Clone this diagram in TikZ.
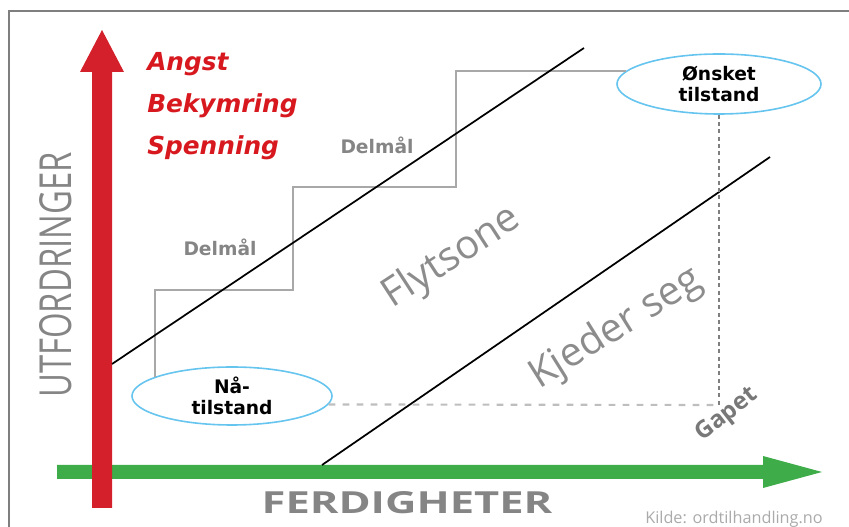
\documentclass[tikz,border=0pt]{standalone}
\usepackage{fontspec}
\usepackage{graphicx}
\usetikzlibrary{shapes.geometric}
\setmainfont{DejaVu Sans}
\newfontfamily\opensans{Open Sans}
\definecolor{framegray}{HTML}{7F7F7F}
\definecolor{stairgray}{HTML}{A8A8A8}
\definecolor{labelgray}{HTML}{858585}
\definecolor{zonegray}{HTML}{8C8C8C}
\definecolor{ellblue}{HTML}{66C5EE}
\definecolor{axisred}{HTML}{D4202A}
\definecolor{axisgreen}{HTML}{3EAC49}
\definecolor{textred}{HTML}{D7191F}
\tikzset{
  stair/.style={draw=stairgray, line width=2pt},
  diag/.style={draw=black, line width=1.3pt},
  goal/.style={ellipse, draw=ellblue, line width=1.2pt, inner sep=0pt, align=center,
    font=\bfseries\fontsize{14}{16}\selectfont},
  feeling/.style={anchor=base west, text=textred, inner sep=0pt,
    font=\bfseries\itshape\fontsize{18.6}{20}\selectfont},
  submark/.style={text=labelgray, inner sep=0pt, font=\bfseries\fontsize{14}{16}\selectfont},
  zone/.style={text=zonegray, inner sep=0pt, font=\opensans\fontsize{30}{34}\selectfont},
}
\begin{document}
\begin{tikzpicture}[x=0.75pt,y=0.75pt]
\useasboundingbox (0,0) rectangle (849,527);
% frame
\draw[framegray, line width=1.6pt] (9,0) -- (9,516) -- (849,516);

% horizontal axis (skills)
\fill[axisgreen] (57,48) -- (763,48) -- (763,39) -- (822,55) -- (763,71) -- (763,62) -- (57,62) -- cycle;
% vertical axis (challenges)
\fill[axisred] (92,19) -- (92,455) -- (80,455) -- (102,497) -- (124,455) -- (112,455) -- (112,19) -- cycle;

% axis titles
\node[text=labelgray, rotate=90, inner sep=0pt] (ytitle) at (56,252)
  {\resizebox{184pt}{24pt}{\opensans UTFORDRINGER}};
\node[text=labelgray, inner sep=0pt] (xtitle) at (407,24)
  {\resizebox{218pt}{16.5pt}{\opensans\bfseries FERDIGHETER}};

% feelings
\node[feeling] (angst) at (147,456) {Angst};
\node[feeling] (bekym) at (147,414) {Bekymring};
\node[feeling] (spenn) at (147,372) {Spenning};

% states
\node[goal, minimum width=150pt, minimum height=43.5pt] (naa) at (232,131) {Nå-\\tilstand};
\node[goal, minimum width=153pt, minimum height=45pt] (onsk) at (719,443) {Ønsket\\tilstand};

% staircase of sub-goals
\coordinate (c1) at (155,237);
\coordinate (c2) at (293,237);
\coordinate (c3) at (293,340);
\coordinate (c4) at (456,340);
\coordinate (c5) at (456,455);
\draw[stair] (c1 |- naa.166.5) -- (c1) -- (c2) -- (c3) -- (c4) -- (c5) -- (onsk.172.7 -| c5) -- (onsk.172.7);
\node[submark] (dm1) at (220,280) {Delmål};
\node[submark] (dm2) at (377,382) {Delmål};

% flow channel borders
\coordinate (u1) at (112,163);
\coordinate (u2) at (584,479);
\draw[diag] (u1) -- (u2);
\coordinate (l1) at (322,62);
\coordinate (l2) at (770,370);
\draw[diag] (l1) -- (l2);

% gap
\coordinate (gap) at (719,122);
\draw[draw=framegray, line width=1.6pt, dash pattern=on 3pt off 2.5pt] (onsk.south) -- (gap);
\draw[draw=stairgray!75, line width=1.6pt, dash pattern=on 5pt off 5.5pt] (naa.-5.4) -- (gap);

% zone labels
\node[zone, rotate=33] (flyt) at (452,269) {Flytsone};
\node[zone, rotate=32] (kjed) at (616,198) {Kjeder seg};
\node[text=labelgray!90!black, rotate=38, inner sep=0pt, font=\opensans\bfseries\fontsize{18}{20}\selectfont] (gapet) at (727,112) {Gapet};

% source
\node[text=labelgray!70, inner sep=0pt] (src) at (734,8)
  {\resizebox{133pt}{!}{\opensans Kilde: ordtilhandling.no}};
\end{tikzpicture}
\end{document}
